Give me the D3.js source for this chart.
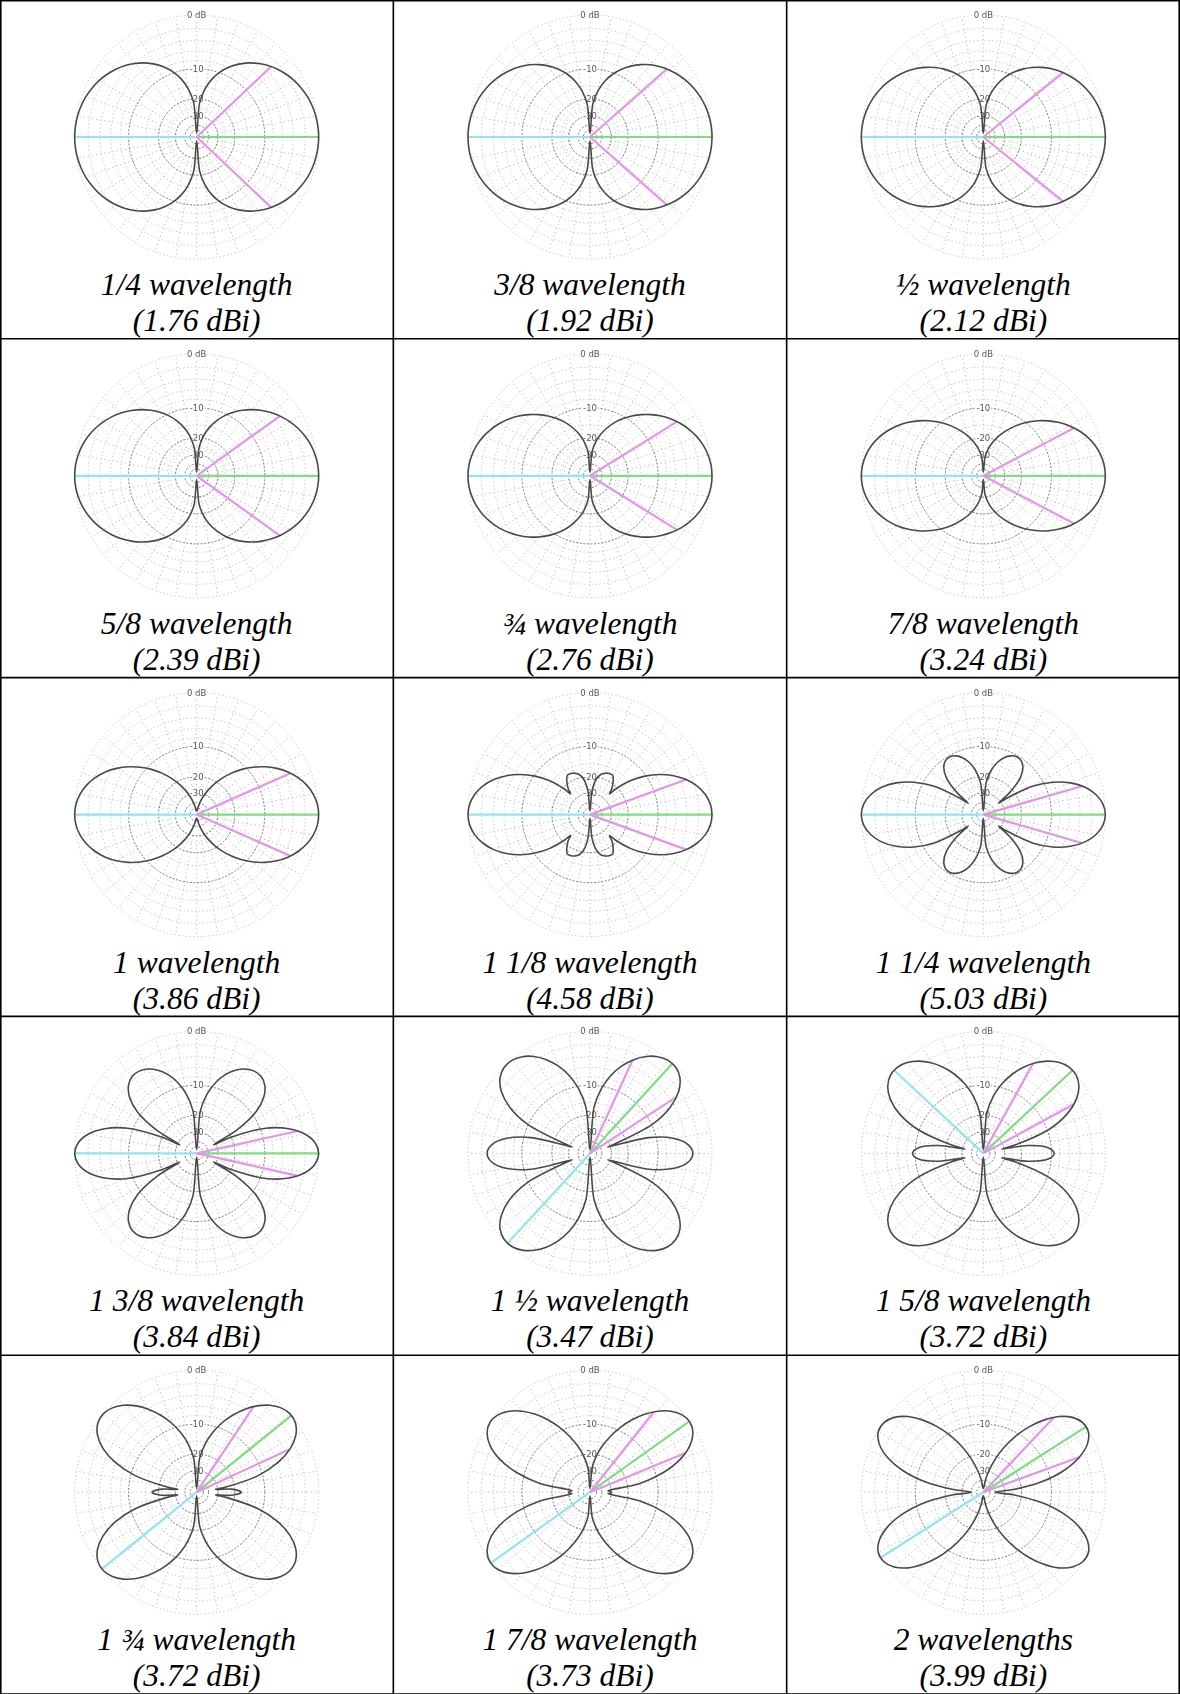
<!DOCTYPE html>
<html>
<head>
<meta charset="utf-8">
<script src="https://cdn.jsdelivr.net/npm/d3@7"></script>
<style>
  html, body { margin: 0; padding: 0; background: #fff; }
  svg { display: block; }
</style>
</head>
<body>
<script>
// Elevation patterns of centre-fed dipoles of increasing length.
// Each pattern lists relative gain (dB) at angles measured from the wire axis
// (0° = along the wire, 90° = broadside); the plots are symmetric so the other
// three quadrants are mirrored from these values.

const captions = [
  "1/4 wavelength", "3/8 wavelength", "½ wavelength",
  "5/8 wavelength", "¾ wavelength", "7/8 wavelength",
  "1 wavelength", "1 1/8 wavelength", "1 1/4 wavelength",
  "1 3/8 wavelength", "1 ½ wavelength", "1 5/8 wavelength",
  "1 ¾ wavelength", "1 7/8 wavelength", "2 wavelengths"
];
const gainsDbi = [1.76, 1.92, 2.12, 2.39, 2.76, 3.24, 3.86, 4.58, 5.03, 3.84, 3.47, 3.72, 3.72, 3.73, 3.99];

const axisAngles = [0, 5, 10, 15, 20, 25, 30, 35, 40, 45, 50, 55, 60, 65, 70, 75, 80, 85, 90];

const dipole1_4 = [-60, -21.66, -15.64, -12.14, -9.71, -7.86, -6.37, -5.14, -4.11, -3.24, -2.51, -1.88, -1.36, -0.94, -0.59, -0.33, -0.15, -0.04, 0];
const dipole3_8 = [-60, -22.28, -16.27, -12.75, -10.28, -8.39, -6.86, -5.55, -4.43, -3.55, -2.76, -2.09, -1.52, -1.05, -0.67, -0.37, -0.17, -0.04, 0];
const dipole1_2 = [-60, -23.27, -17.24, -13.69, -11.16, -9.20, -7.59, -6.23, -5.06, -4.03, -3.16, -2.41, -1.76, -1.22, -0.78, -0.44, -0.19, -0.05, 0];
const dipole5_8 = [-60, -24.83, -18.76, -15.17, -12.55, -10.45, -8.72, -7.23, -5.92, -4.78, -3.77, -2.88, -2.12, -1.47, -0.94, -0.53, -0.24, -0.06, 0];
const dipole3_4 = [-60, -27.37, -21.28, -17.59, -14.84, -12.49, -10.50, -8.80, -7.27, -5.90, -4.68, -3.59, -2.65, -1.85, -1.18, -0.67, -0.30, -0.07, 0];
const dipole7_8 = [-60, -32.32, -25.98, -21.93, -18.76, -16.06, -13.66, -11.48, -9.50, -7.72, -6.12, -4.69, -3.46, -2.41, -1.54, -0.87, -0.39, -0.10, 0];
const dipole1 = [-60, -60, -49.7, -39.13, -31.65, -25.87, -21.18, -17.27, -13.95, -11.09, -8.64, -6.55, -4.77, -3.29, -2.10, -1.18, -0.52, -0.13, 0];
const dipole1_1_8 = [-60, -28, -21, -18.5, -17.5, -17, -17, -19, -22, -21, -14.46, -10.27, -7.18, -4.82, -3.01, -1.67, -0.73, -0.18, 0];
const dipole1_1_4 = [-60, -22.92, -17.20, -14.02, -12.03, -10.85, -10.34, -10.57, -11.74, -14.51, -21.64, -25.18, -13.17, -7.97, -4.71, -2.52, -1.09, -0.27, 0];
const dipole1_3_8 = [-60, -18.04, -12.08, -8.73, -6.45, -4.89, -3.87, -3.34, -3.36, -4.05, -5.67, -8.94, -16.81, -19.64, -8.72, -4.24, -1.74, -0.42, 0];
const dipole1_1_2 = [-60, -16.66, -10.63, -7.11, -4.65, -2.83, -1.48, -0.56, -0.07, -0.07, -0.66, -2.05, -4.68, -9.85, -30.1, -11.90, -6.10, -3.64, -2.92];
const dipole1_5_8 = [-60, -18.90, -12.66, -9.05, -6.36, -4.28, -2.63, -1.36, -0.49, -0.05, -0.10, -0.76, -2.23, -4.88, -9.71, -22.21, -17.09, -10.81, -9.35];
const dipole1_3_4 = [-60, -21.90, -15.61, -11.66, -8.67, -6.22, -4.19, -2.52, -1.25, -0.39, -0.01, -0.20, -1.08, -2.86, -5.94, -11.31, -24.20, -21.43, -17.24];
const dipole1_7_8 = [-60, -27.19, -20.52, -16.01, -12.37, -9.24, -6.55, -4.28, -2.45, -1.09, -0.25, 0, -0.45, -1.74, -4.13, -8.13, -15.05, -32.81, -29.66];
const dipole2 = [-60, -57.0, -39.0, -28.47, -21.05, -15.38, -10.89, -7.30, -4.46, -2.25, -0.81, -0.10, -0.11, -1.02, -3.05, -6.61, -12.63, -24.04, -40];

const patterns = [dipole1_4, dipole3_8, dipole1_2, dipole5_8, dipole3_4, dipole7_8,
  dipole1, dipole1_1_8, dipole1_1_4, dipole1_3_8, dipole1_1_2, dipole1_5_8,
  dipole1_3_4, dipole1_7_8, dipole2];

// Angle of the null between lobes (degrees from the wire axis) and its depth, where one exists
const nullAngle = [null, null, null, null, null, null, null, 43, 53.1, 63.0, 70.5, 76.7, 81.8, 86.2, null];
const nullDepth = [null, null, null, null, null, null, null, -25, -32, -32, -32, -32, -32, -32, null];

// Beam markers: main lobe (green), half-power points (magenta), back direction (cyan),
// given as clockwise bearings from the top of each plot.
const peakBearing = [90, 90, 90, 90, 90, 90, 90, 90, 90, 90, 42.5, 47, 51, 54.5, 57.5];
const halfPowerBearings = [
  [46.6, 133.4], [48.5, 131.5], [51.1, 128.9], [54.3, 125.7], [58.1, 121.9], [62.2, 117.8],
  [66.2, 113.8], [70, 110], [73.9, 106.1], [77.5, 102.5], [24.5, 56.8], [28.9, 61.5],
  [33.6, 65.2], [38.5, 67.6], [43.3, 69.9]
];
const backBearing = [270, 270, 270, 270, 270, 270, 270, 270, 270, 270, 222.5, 313, 231, 234.5, 237.5];

// Grid rings (dB) and labelled rings
const lightRings = [-2, -4, -6, -8, -15, -25];
const darkRings = [-10, -20, -30, -40, -50];
const ringLabels = [[0, "0 dB"], [-10, "-10"], [-20, "-20"], [-30, "-30"]];
const spokeBearings = [0, 10, 20, 30, 40, 50, 60, 70, 80, 90, 100, 110, 120, 130, 140, 150, 160, 170,
  180, 190, 200, 210, 220, 230, 240, 250, 260, 270, 280, 290, 300, 310, 320, 330, 340, 350];

// ---------------------------------------------------------------------------
const W = 1180, H = 1694;
const nCols = 3, nRows = 5;
const colW = W / nCols, rowH = 338.8;
const R = 122;

const svg = d3.select("body").append("svg")
  .attr("width", W).attr("height", H)
  .attr("viewBox", `0 0 ${W} ${H}`);

const defs = svg.append("defs");
defs.append("filter").attr("id", "soft")
  .attr("x", "-5%").attr("y", "-5%").attr("width", "110%").attr("height", "110%")
  .append("feGaussianBlur").attr("stdDeviation", 0.45);

// ARRL-style log-periodic radius: r grows as (field ratio)^0.506
const radial = d3.scalePow().exponent(0.506).domain([0, 1]).range([0, R]);
const rOf = dB => radial(Math.pow(10, dB / 20));
const rad = deg => deg * Math.PI / 180;

function mirroredPoints(values, nullAt, depth) {
  let pts = axisAngles.map((a, i) => [a, values[i]]);
  if (nullAt != null) pts.push([nullAt, depth]);
  pts.sort((a, b) => a[0] - b[0]);
  const q1 = pts;
  const q2 = pts.slice(0, -1).map(p => [180 - p[0], p[1]]).reverse();
  const q3 = pts.slice(1).map(p => [180 + p[0], p[1]]);
  const q4 = pts.slice(1, -1).map(p => [360 - p[0], p[1]]).reverse();
  return q1.concat(q2, q3, q4);
}

const patternLine = d3.lineRadial()
  .angle(d => rad(d[0]))
  .radius(d => rOf(d[1]))
  .curve(d3.curveCatmullRomClosed.alpha(0.5));

const cells = svg.selectAll("g.cell").data(patterns).join("g")
  .attr("class", "cell")
  .attr("transform", (d, i) => `translate(${(i % nCols) * colW},${Math.floor(i / nCols) * rowH})`);

cells.each(function (values, i) {
  const cell = d3.select(this);
  const plot = cell.append("g")
    .attr("transform", `translate(${colW / 2},137)`)
    .attr("filter", "url(#soft)");

  // spokes
  plot.append("g").selectAll("line").data(spokeBearings).join("line")
    .attr("x1", b => rOf(-30) * Math.sin(rad(b)))
    .attr("y1", b => -rOf(-30) * Math.cos(rad(b)))
    .attr("x2", b => R * Math.sin(rad(b)))
    .attr("y2", b => -R * Math.cos(rad(b)))
    .attr("stroke", "#b3b3b3").attr("stroke-width", 0.9)
    .attr("stroke-dasharray", "1.2,3");

  // rings
  plot.append("g").selectAll("circle").data([0].concat(lightRings)).join("circle")
    .attr("r", d => rOf(d)).attr("fill", "none")
    .attr("stroke", "#b8b8b8").attr("stroke-width", 0.9)
    .attr("stroke-dasharray", "1.2,2.6");
  plot.append("g").selectAll("circle").data(darkRings).join("circle")
    .attr("r", d => rOf(d)).attr("fill", "none")
    .attr("stroke", "#7a7a7a").attr("stroke-width", 1)
    .attr("stroke-dasharray", "2,1.6");

  // ring labels
  plot.append("g").selectAll("text").data(ringLabels).join("text")
    .attr("x", 0).attr("y", d => -rOf(d[0]) + 3)
    .attr("text-anchor", "middle")
    .attr("font-family", "DejaVu Sans, sans-serif")
    .attr("font-size", 8.5)
    .attr("fill", "#555")
    .attr("stroke", "#fff").attr("stroke-width", 3).attr("paint-order", "stroke")
    .text(d => d[1]);

  // beam markers
  const markers = [
    { b: backBearing[i], dB: 0, c: "#93e4f2" },
    { b: peakBearing[i], dB: 0, c: "#80dc80" },
    { b: halfPowerBearings[i][0], dB: -3, c: "#e296ea" },
    { b: halfPowerBearings[i][1], dB: -3, c: "#e296ea" }
  ];
  plot.append("g").selectAll("line").data(markers).join("line")
    .attr("x1", 0).attr("y1", 0)
    .attr("x2", d => rOf(d.dB) * Math.sin(rad(d.b)))
    .attr("y2", d => -rOf(d.dB) * Math.cos(rad(d.b)))
    .attr("stroke", d => d.c).attr("stroke-width", 2.2);

  // pattern
  plot.append("path")
    .attr("d", patternLine(mirroredPoints(values, nullAngle[i], nullDepth[i])))
    .attr("fill", "none")
    .attr("stroke", "#4a4a4a").attr("stroke-width", 1.6)
    .attr("stroke-linejoin", "round");

  // caption
  const cap = cell.append("g")
    .attr("font-family", "Liberation Serif, Times New Roman, serif")
    .attr("font-style", "italic")
    .attr("font-size", 31.5)
    .attr("text-anchor", "middle")
    .attr("fill", "#000");
  cap.append("text").attr("x", colW / 2).attr("y", 295).text(captions[i]);
  cap.append("text").attr("x", colW / 2).attr("y", 331).text(`(${gainsDbi[i].toFixed(2)} dBi)`);
});

// table rules
const rules = svg.append("g").attr("stroke", "#000").attr("stroke-width", 1.6);
d3.range(0, nCols + 1).forEach(c => {
  const x = Math.min(Math.max(c * colW, 0.8), W - 0.8);
  rules.append("line").attr("x1", x).attr("x2", x).attr("y1", 0).attr("y2", H);
});
d3.range(0, nRows + 1).forEach(r => {
  const y = Math.max(r * rowH, 0.8);
  rules.append("line").attr("x1", 0).attr("x2", W).attr("y1", y).attr("y2", y);
});
</script>
</body>
</html>
